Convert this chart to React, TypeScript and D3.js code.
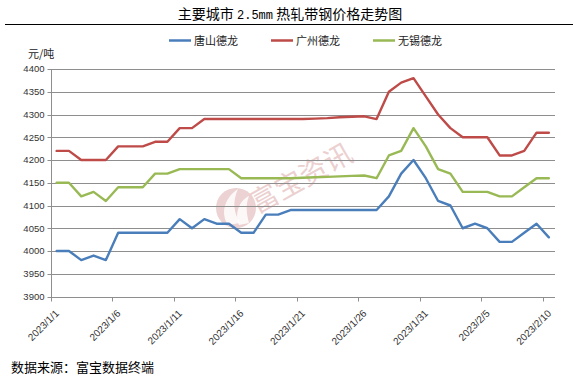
import React from "react";
import * as d3 from "d3";

const categories: string[] = [
  "2023/1/1","2023/1/2","2023/1/3","2023/1/4","2023/1/5","2023/1/6","2023/1/7","2023/1/8","2023/1/9","2023/1/10",
  "2023/1/11","2023/1/12","2023/1/13","2023/1/14","2023/1/15","2023/1/16","2023/1/17","2023/1/18","2023/1/19","2023/1/20",
  "2023/1/21","2023/1/22","2023/1/23","2023/1/24","2023/1/25","2023/1/26","2023/1/27","2023/1/28","2023/1/29","2023/1/30",
  "2023/1/31","2023/2/1","2023/2/2","2023/2/3","2023/2/4","2023/2/5","2023/2/6","2023/2/7","2023/2/8","2023/2/9",
  "2023/2/10",
];

const tangshan: number[] = [
  4000,4000,3980,3990,3980,4040,4040,4040,4040,4040,
  4070,4050,4070,4060,4060,4040,4040,4080,4080,4090,
  4090,4090,4090,4090,4090,4090,4090,4120,4170,4200,
  4160,4110,4100,4050,4060,4050,4020,4020,4040,4060,
  4030,
];

const guangzhou: number[] = [
  4220,4220,4200,4200,4200,4230,4230,4230,4240,4240,
  4270,4270,4290,4290,4290,4290,4290,4290,4290,4290,
  4290,4291,4292,4294,4295,4296,4290,4350,4370,4380,
  4340,4300,4270,4250,4250,4250,4210,4210,4220,4260,
  4260,
];

const wuxi: number[] = [
  4150,4150,4120,4130,4110,4140,4140,4140,4170,4170,
  4180,4180,4180,4180,4180,4160,4160,4160,4160,4160,
  4161,4162,4163,4164,4165,4166,4160,4210,4220,4270,
  4230,4180,4170,4130,4130,4130,4120,4120,4140,4160,
  4160,
];

const seriesNames: string[] = ["唐山德龙", "广州德龙", "无锡德龙"];
const seriesColors: string[] = ["#4a7ebb", "#be4b48", "#98b954"];
const yTicks: number[] = [3900, 3950, 4000, 4050, 4100, 4150, 4200, 4250, 4300, 4350, 4400];
const xTickLabels: string[] = [
  "2023/1/1","2023/1/6","2023/1/11","2023/1/16","2023/1/21","2023/1/26","2023/1/31","2023/2/5","2023/2/10",
];

const W = 573;
const H = 378;
const plotLeft = 50.5;
const plotRight = 555;
const plotTop = 69;
const plotBottom = 296.5;

const CJK = '"Noto Sans CJK SC", "Noto Sans", sans-serif';
const LAT = '"Liberation Sans", Arial, sans-serif';

export default function App() {
  const x = d3.scaleBand<string>().domain(categories).range([plotLeft, plotRight]).padding(0);
  const y = d3.scaleLinear().domain([3900, 4400]).range([plotBottom, plotTop]);
  const cx = (c: string) => (x(c) as number) + x.bandwidth() / 2;

  const allSeries = [tangshan, guangzhou, wuxi];
  const line = d3
    .line<number>()
    .x((_, i) => cx(categories[i]))
    .y((d) => y(d));

  const crisp = (v: number) => Math.round(v) + 0.5;

  const legendItems = [
    { lx: 169, tx: 194 },
    { lx: 271, tx: 296 },
    { lx: 373, tx: 398 },
  ];

  return (
    <svg
      width={W}
      height={H}
      viewBox={`0 0 ${W} ${H}`}
      style={{ position: "absolute", left: 0, top: 0, display: "block", background: "#fff" }}
    >
      <rect x={0} y={0} width={W} height={H} fill="#fff" />
      {/* title */}
      <text x={290} y={19} textAnchor="middle" fontFamily={CJK} fontSize={14} fill="#000">
        <tspan>主要城市 </tspan>
        <tspan fontFamily='"Liberation Mono", "DejaVu Sans Mono", monospace' fontSize={12}>2.5mm</tspan>
        <tspan> 热轧带钢价格走势图</tspan>
      </text>
      <line x1={5} x2={W} y1={24.5} y2={24.5} stroke="#000" strokeWidth={1} />

      {/* legend */}
      {legendItems.map((it, i) => (
        <g key={seriesNames[i]}>
          <line x1={it.lx} x2={it.lx + 22} y1={40.5} y2={40.5} stroke={seriesColors[i]} strokeWidth={2.5} />
          <text x={it.tx} y={44.5} fontFamily={CJK} fontSize={11} fill="#222">
            {seriesNames[i]}
          </text>
        </g>
      ))}

      <text x={28} y={57.5} fontFamily={CJK} fontSize={11} fill="#222">元/吨</text>

      {/* watermark */}
      <g>
        <circle cx={236} cy={208} r={20} fill="#ecd2d2" />
        <path d="M228,225 C219,211 227,196 238,189 C232,202 234,213 240,223 Z" fill="#fff" opacity={0.85} />
        <path d="M239,225 C234,213 240,200 249,196 C245,206 247,215 249,223 Z" fill="#fff" opacity={0.85} />
        <text
          x={0}
          y={0}
          transform="translate(257,214) rotate(-29)"
          fontFamily={CJK}
          fontSize={28}
          fill="#ecd0d0"
        >
          富宝资讯
        </text>
      </g>

      {/* gridlines */}
      {yTicks.map((t) => (
        <line
          key={`g${t}`}
          x1={plotLeft}
          x2={plotRight}
          y1={crisp(y(t))}
          y2={crisp(y(t))}
          stroke="#8e8e8e"
          strokeWidth={1}
        />
      ))}
      {/* y axis */}
      <line x1={crisp(plotLeft)} x2={crisp(plotLeft)} y1={plotTop} y2={crisp(plotBottom)} stroke="#8e8e8e" />
      {yTicks.map((t) => (
        <g key={`yt${t}`}>
          <line x1={crisp(plotLeft) - 4} x2={crisp(plotLeft)} y1={crisp(y(t))} y2={crisp(y(t))} stroke="#8e8e8e" />
          <text
            x={44.5}
            y={y(t)}
            dy="0.35em"
            textAnchor="end"
            fontFamily={LAT}
            fontSize={9.5}
            fill="#333"
          >
            {t}
          </text>
        </g>
      ))}
      {/* x axis ticks */}
      {xTickLabels.map((lab) => {
        const xe = x(lab) as number;
        return (
          <g key={`xt${lab}`}>
            <line x1={crisp(xe)} x2={crisp(xe)} y1={crisp(plotBottom)} y2={crisp(plotBottom) + 4} stroke="#8e8e8e" />
            <text
              transform={`translate(${cx(lab) + 3},${314}) rotate(-45)`}
              textAnchor="end"
              fontFamily={LAT}
              fontSize={10}
              fill="#333"
            >
              {lab}
            </text>
          </g>
        );
      })}

      {/* series */}
      {allSeries.map((s, i) => (
        <path
          key={seriesNames[i]}
          d={line(s) || ""}
          fill="none"
          stroke={seriesColors[i]}
          strokeWidth={2.4}
          strokeLinejoin="round"
          strokeLinecap="round"
        />
      ))}

      {/* footer */}
      <text x={11} y={371.5} fontFamily={CJK} fontSize={13} fill="#000">
        数据来源：富宝数据终端
      </text>
    </svg>
  );
}
